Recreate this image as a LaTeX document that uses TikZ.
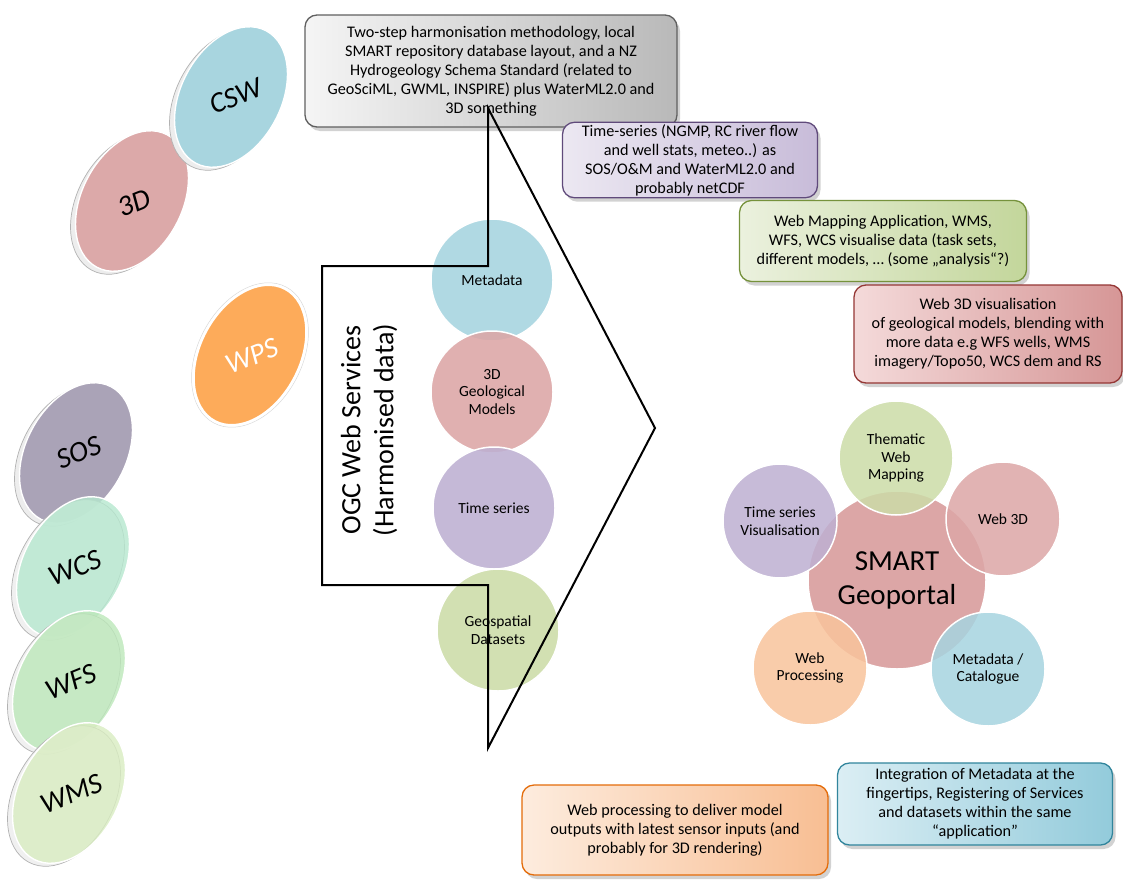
\documentclass[tikz,border=0pt]{standalone}
\usepackage{fontspec}
\setmainfont{Carlito}
\usetikzlibrary{shapes.geometric,shadows}
\definecolor{cswc}{HTML}{A8D5DF}
\definecolor{ddc}{HTML}{DCA9A9}
\definecolor{wpsc}{HTML}{FDAB5A}
\definecolor{sosc}{HTML}{AAA3B7}
\definecolor{wcsc}{HTML}{B6E8CF}
\definecolor{wfsc}{HTML}{BCE8BA}
\definecolor{wmsc}{HTML}{D9EDC1}
\definecolor{blc}{HTML}{A6D4E0}
\definecolor{rdc}{HTML}{DCA6A6}
\definecolor{puc}{HTML}{BEB0D2}
\definecolor{grc}{HTML}{CCDCA8}
\definecolor{orc}{HTML}{F9C49C}
\begin{document}
\begin{tikzpicture}[x=1pt,y=-1pt,
  discrim/.style={fill=gray!14, draw=gray!60, line width=0.7pt},
  disc/.style={draw=white, line width=1.4pt},
  disctext/.style={font=\fontsize{29}{32}\selectfont\itshape, rotate=22, inner sep=0pt},
  midcirc/.style={circle, draw=white, line width=1.5pt, minimum size=122, inner sep=0pt, fill opacity=0.88, text opacity=1, align=center, font=\fontsize{15.5}{17.5}\selectfont},
  gpcirc/.style={circle, draw=white, line width=1.5pt, minimum size=114, inner sep=0pt, fill opacity=0.85, text opacity=1, align=center, font=\fontsize{15.5}{17.5}\selectfont},
  infobox/.style={rounded corners=12pt, line width=1.3pt, align=center, inner sep=2pt, font=\fontsize{16.2}{19}\selectfont, drop shadow={shadow xshift=3pt, shadow yshift=-4pt, opacity=0.35}},
  chev/.style={line width=2pt, line join=miter}
]
\useasboundingbox (0,0) rectangle (1123,881);
\fill[white] (0,0) rectangle (1123,881);

% ---- left discs (drawn shapes) ----
\def\dra{75}\def\drb{50}
% 3D
\path[discrim, rotate around={62:(127,204)}] (127,204) ellipse [x radius=\dra, y radius=\drb];
\path[disc, fill=ddc, rotate around={62:(132,201)}] (132,201) ellipse [x radius=\dra, y radius=\drb];
\node (ddt) [disctext] at (134,203) {3D};
% CSW
\path[discrim, rotate around={62:(226,100)}] (226,100) ellipse [x radius=\dra, y radius=\drb];
\path[disc, fill=cswc, rotate around={62:(231,97)}] (231,97) ellipse [x radius=\dra, y radius=\drb];
\node (cswt) [disctext] at (236,96) {CSW};
% WPS
\path[draw=gray!30, line width=0.5pt, rotate around={62:(250,355)}] (250,355) ellipse [x radius=\dra+2, y radius=\drb+2];
\path[fill=wpsc, draw=white, line width=2.5pt, rotate around={62:(250,355)}] (250,355) ellipse [x radius=\dra, y radius=\drb];
\node (wpst) [disctext, text=white] at (252,356) {WPS};
% SOS
\path[discrim, rotate around={62:(71,456)}] (71,456) ellipse [x radius=\dra, y radius=\drb];
\path[disc, fill=sosc, rotate around={62:(76,453)}] (76,453) ellipse [x radius=\dra, y radius=\drb];
\node (sost) [disctext] at (79,452) {SOS};
% WCS
\path[discrim, fill opacity=0.8, rotate around={62:(68,570)}] (68,570) ellipse [x radius=\dra, y radius=\drb];
\path[disc, fill=wcsc, fill opacity=0.8, rotate around={62:(73,567)}] (73,567) ellipse [x radius=\dra, y radius=\drb];
\node (wcst) [disctext] at (75,568) {WCS};
% WFS
\path[discrim, fill opacity=0.8, rotate around={62:(64,684)}] (64,684) ellipse [x radius=\dra, y radius=\drb];
\path[disc, fill=wfsc, fill opacity=0.8, rotate around={62:(69,681)}] (69,681) ellipse [x radius=\dra, y radius=\drb];
\node (wfst) [disctext] at (71,682) {WFS};
% WMS
\path[discrim, fill opacity=0.8, rotate around={62:(64,796)}] (64,796) ellipse [x radius=\dra, y radius=\drb];
\path[disc, fill=wmsc, fill opacity=0.8, rotate around={62:(69,793)}] (69,793) ellipse [x radius=\dra, y radius=\drb];
\node (wmst) [disctext] at (72,794) {WMS};

% ---- middle circles ----
\node (meta) [midcirc, fill=blc] at (492,280) {Metadata};
\node (geo3d) [midcirc, fill=rdc] at (492,392) {3D\\Geological\\Models};
\node (tser) [midcirc, fill=puc] at (494,508) {Time series};
\node (gds) [midcirc, fill=grc] at (498,630) {Geospatial\\Datasets};

% ---- OGC text ----
\node (ogc) [rotate=90, align=center, font=\fontsize{28}{33}\selectfont] at (369,430) {OGC Web Services\\(Harmonised data)};

% ---- info boxes ----
\node (topbox) [infobox, draw=gray!75!black, left color=gray!8, right color=gray!55, minimum width=372, minimum height=112] at (491,71)
 {Two-step harmonisation methodology, local\\SMART repository database layout, and a NZ\\Hydrogeology Schema Standard (related to\\GeoSciML, GWML, INSPIRE) plus WaterML2.0 and\\3D something};
\node (tsbox) [infobox, draw={rgb,255:red,96;green,74;blue,123}, left color={rgb,255:red,236;green,232;blue,242}, right color={rgb,255:red,200;green,188;blue,217}, minimum width=255, minimum height=74] at (690,160)
 {Time-series (NGMP, RC river flow\\and well stats, meteo..) as\\SOS/O\&M and WaterML2.0 and\\probably netCDF};
\node (wmbox) [infobox, draw={rgb,255:red,118;green,146;blue,60}, left color={rgb,255:red,235;green,241;blue,222}, right color={rgb,255:red,195;green,214;blue,155}, minimum width=287, minimum height=81] at (883,241)
 {Web Mapping Application, WMS,\\WFS, WCS visualise data (task sets,\\different models, … (some „analysis“?)};
\node (w3box) [infobox, draw={rgb,255:red,149;green,55;blue,53}, left color={rgb,255:red,244;green,218;blue,218}, right color={rgb,255:red,214;green,150;blue,150}, minimum width=268, minimum height=98] at (988,334)
 {Web 3D visualisation\\of geological models, blending with\\more data e.g WFS wells, WMS\\imagery/Topo50, WCS dem and RS};

% ---- chevron outline ----
\coordinate (c1) at (488,108);
\coordinate (c2) at (488,266);
\coordinate (c3) at (322,266);
\coordinate (c4) at (322,585);
\coordinate (c5) at (488,585);
\coordinate (c6) at (488,748);
\coordinate (c7) at (655,428);
\draw[chev] (c1) -- (c2) -- (c3) -- (c4) -- (c5) -- (c6) -- (c7) -- cycle;

% ---- SMART Geoportal ----
\node (gp) [circle, draw=white, line width=1.5pt, minimum size=178, fill=rdc, align=center, font=\fontsize{29}{34}\selectfont] at (897,580) {SMART\\Geoportal};
\node (twm) [gpcirc, fill=grc] at (896,458) {Thematic\\Web\\Mapping};
\node (w3d) [gpcirc, fill=rdc] at (1003,519) {Web 3D};
\node (tsv) [gpcirc, fill=puc] at (780,521) {Time series\\Visualisation};
\node (wpr) [gpcirc, fill=orc] at (810,668) {Web\\Processing};
\node (mdc) [gpcirc, fill=blc] at (988,669) {Metadata /\\Catalogue};

% ---- bottom boxes ----
\node (orbox) [infobox, draw={rgb,255:red,228;green,108;blue,10}, left color={rgb,255:red,253;green,236;blue,222}, right color={rgb,255:red,248;green,190;blue,147}, minimum width=306, minimum height=90] at (675,830)
 {Web processing to deliver model\\outputs with latest sensor inputs (and\\probably for 3D rendering)};
\node (blbox) [infobox, draw={rgb,255:red,49;green,133;blue,156}, left color={rgb,255:red,219;green,238;blue,244}, right color={rgb,255:red,147;green,203;blue,219}, minimum width=275, minimum height=82] at (975,804)
 {Integration of Metadata at the\\fingertips, Registering of Services\\and datasets within the same\\“application”};
\end{tikzpicture}
\end{document}
